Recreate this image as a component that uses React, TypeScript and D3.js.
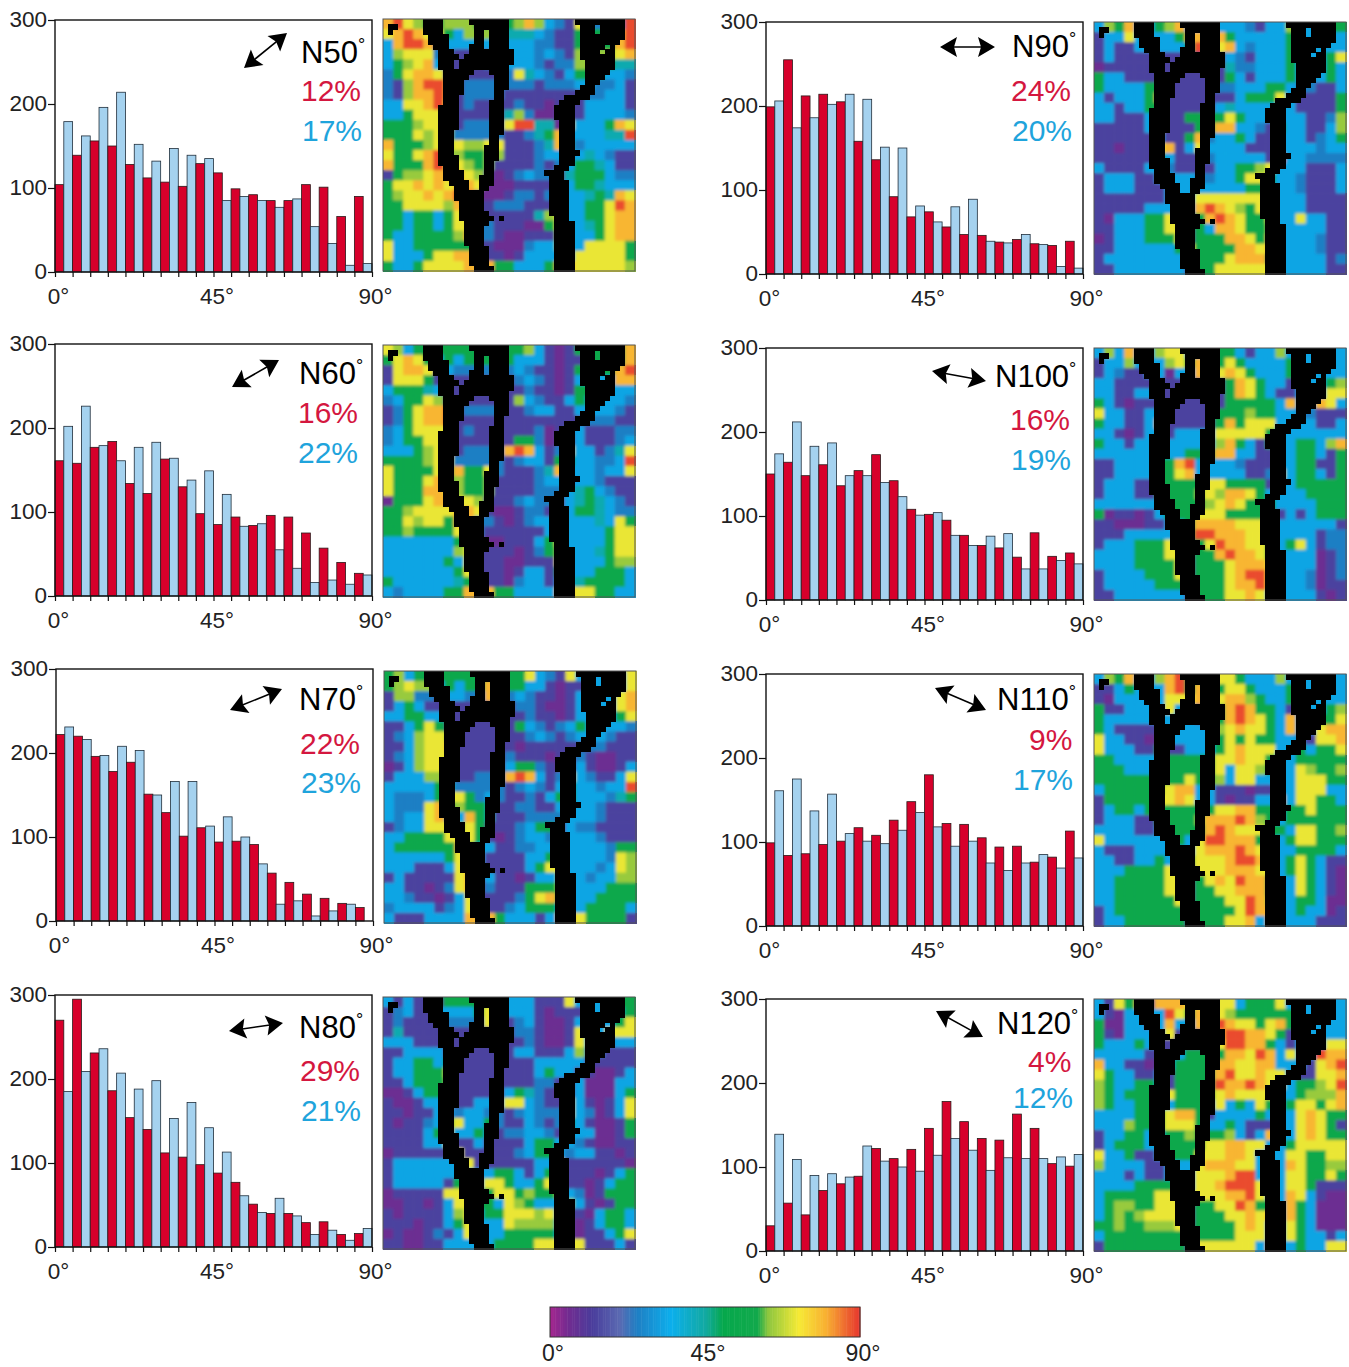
import React, { useEffect, useRef } from 'react';
import * as d3 from 'd3';

// counts per 5 degree bin
const n50Red = [104, 139, 156, 150, 128, 112, 107, 102, 129, 118, 99, 92, 85, 85, 104, 101, 66, 90];
const n50Blue = [179, 162, 196, 214, 152, 132, 147, 139, 135, 85, 90, 85, 77, 87, 54, 34, 8, 10];
const n60Red = [161, 158, 177, 184, 134, 122, 163, 130, 98, 85, 94, 84, 96, 94, 75, 57, 40, 27];
const n60Blue = [202, 226, 179, 161, 177, 183, 164, 138, 149, 121, 83, 86, 55, 33, 16, 19, 14, 25];
const n70Red = [222, 220, 196, 178, 189, 151, 129, 101, 111, 94, 95, 91, 57, 46, 32, 27, 21, 16];
const n70Blue = [231, 216, 197, 208, 203, 150, 166, 166, 113, 124, 100, 68, 20, 24, 6, 12, 20, 0];
const n80Red = [270, 295, 231, 186, 154, 140, 112, 107, 98, 88, 77, 51, 40, 40, 29, 30, 15, 16];
const n80Blue = [185, 209, 236, 207, 188, 198, 153, 172, 142, 113, 61, 41, 58, 37, 15, 20, 8, 22];
const n90Red = [199, 255, 212, 214, 205, 158, 136, 92, 68, 74, 56, 47, 46, 38, 41, 36, 34, 39];
const n90Blue = [206, 174, 186, 202, 214, 208, 151, 150, 81, 62, 80, 89, 39, 37, 47, 35, 9, 7];
const n100Red = [150, 164, 148, 161, 136, 154, 173, 142, 108, 102, 95, 77, 65, 62, 51, 80, 52, 56];
const n100Blue = [174, 212, 183, 187, 148, 148, 140, 123, 101, 104, 77, 65, 76, 79, 37, 37, 47, 43];
const n110Red = [99, 84, 86, 97, 101, 117, 108, 126, 148, 180, 122, 121, 105, 94, 95, 76, 82, 113];
const n110Blue = [161, 175, 137, 157, 110, 101, 98, 114, 135, 118, 95, 101, 75, 66, 75, 85, 69, 81];
const n120Red = [30, 57, 43, 72, 80, 89, 122, 110, 121, 146, 178, 154, 134, 132, 163, 146, 104, 101];
const n120Blue = [139, 109, 90, 92, 88, 125, 107, 100, 95, 114, 134, 120, 96, 111, 110, 110, 112, 115];

// map cells, one digit per cell, index into angleClasses
const angleClasses = [6, 13, 25, 33, 43, 52, 64, 71, 79, 88];

const n50Map = [
  '8976556665555686321722229', '7898775366664443211555589', '3899813333333332211555589', '3677722111113332321666678',
  '3567831111223332122666544', '2578871111112743213554332', '2168998122222221222332231', '2168898122221111111122331',
  '3377897121111211011133331', '3357776111114620011133332', '5556777122227994407333587', '5557676222221124583333449',
  '8555676766771112484233333', '7557896655661112332343211', '8555897765611112123554311', '1566788876101232214555322',
  '5778787887000111113554333', '5677878990001221283345487', '5577776881122211183355798', '5535535771111114673355788',
  '5535535772211100573345788', '5335555682210011163335788', '7335555551100023363377775', '7333577881110133333777775',
  '5335777788855333588777776',
];
const n60Map = [
  '7635555555555563101555558', '5787535355555333101155558', '1788713222222321101555589', '1777511111111232101333388',
  '3555431111111121101554333', '2355761111111632113543332', '1257889122221123311333321', '1257889111111111111122211',
  '2357777121111112012311122', '2355777111111552011311123', '3335677122228983127331247', '5555677222221233155332239',
  '7555575855721112483332337', '7555785655611112332332111', '7555887655611112223453211', '0555788776111232213454321',
  '5567777887100122113554322', '5576775882210123373334375', '5565555782111111383333577', '3333333572001113573333577',
  '3333333671111012563334577', '3333335371110011173333566', '3333333571110133153335553', '5333333457110233133455553',
  '3233335588855333388775533',
];
const n70Map = [
  '5635555555555573217333337', '5676635355855533101133337', '1662213322822321101333378', '1353111111111221001333378',
  '3355331111111121101333357', '1135751111111532123533332', '1236776111111123212333211', '1136778111111011111122111',
  '1236777111112111011210011', '0136775111113552101310013', '1333665112228983127321137', '3333354222221232135332339',
  '3222357752321121355333245', '3222785655411221133332111', '3233784385411122223332111', '1233777675111235513221111',
  '3355557775101233213332111', '3555555853311223373333255', '3333335783111133573333276', '3331113782111135773332376',
  '1311111781311013363323366', '3311012781211155563333555', '3321101371111257853335555', '2333312371112355533355553',
  '3111333388853331388755551',
];
const n80Map = [
  '3131115555553331117333355', '1231133335723331011133345', '1211112222721231001333357', '1411111111111221001733777',
  '3331111111111121001733233', '1133331111111331113622111', '1335535111111113333311111', '1335557111111113533110013',
  '1135556111111112211300033', '0013555111113542101300035', '1001336113337732117310137', '1101133233221232227320137',
  '1011235733521132125310015', '1111357335312233213330015', '1111337113111135533210011', '0111111711111235532331101',
  '1333333371111113371111110', '1333333333355313571110135', '1333331583775335751101355', '0111117771577565563201555',
  '0011013775537653336310155', '1011113673557776731103553', '1110113573337666631013553', '0100121371335555531011357',
  '1100113333355557777711131',
];
const n90Map = [
  '3658335683333332133633355', '1337333358838533333533333', '1311333335927832333533333', '1311111111111321333533357',
  '0111111111111422333533353', '5331111111111531333532353', '5333355111112233355322113', '3133358111111135557311115',
  '3313355111113433333311115', '3311138115555753333331126', '1111138111558833215331136', '1111113115823353113331235',
  '1101117813733331113333233', '1111115311123333319332222', '3111133211113355673331113', '1333113333223357753321113',
  '1333111333333335553321113', '1111111333777777783331111', '1111133353898765763331111', '1033355771589875573373311',
  '1133355771538875563333311', '0133355571555887583333211', '1133333357555588783333211', '1333333336555788853333312',
  '1133333331557777773333311',
];
const n100Map = [
  '3638336773335531336333333', '1336333675835753333533333', '1321133033827875333533333', '3311111111111587533133356',
  '3311331111111587531133377', '5310111111111555553833873', '7331133111115556553322111', '5331138111115857773333113',
  '3310133133337777753333333', '5331335333336853153355368', '3333335335558833113355315', '1133335589333321113355115',
  '1133335578333331127355315', '1333115555577555513355555', '1333115555676887533335555', '3333333555567875553333555',
  '5011013555777555551313555', '1100011335888877753333331', '1113333335998887753333122', '1333555751579887753573122',
  '3333555771558988753333012', '3333555571555788873333012', '1333355571555789973332012', '1333335557555788973332011',
  '1133333331555778733333101',
];
const n110Map = [
  '3658336895557753336333333', '1135333895835775333533333', '1033333777827886533533333', '5113333733115898553133356',
  '5333333333115898753833557', '5311111333336787753833788', '7331101333335757553321778', '7333115113335787773353557',
  '5533333555557787753355555', '5553335555557377653376556', '5555555557556377333377755', '3555556788331110113377733',
  '1555557787331011338377553', '1355355555557788553557555', '1333115555688898653555555', '3333113555589877755377556',
  '7333333353799888553577555', '3111333333788898733355553', '3311335335777899833575311', '3335555771777888773575310',
  '3355555771578798853375310', '3355555771557788853375310', '3355555571555779863355300', '1355555557555579883353301',
  '1335555551555778383333111',
];
const n120Map = [
  '3175818887777735557333333', '3103333975877655555533333', '5003313833879877578533333', '5103333711118998875133333',
  '5333531111117998853133377', '3333311135555887983733988', '8331101355558877883331789', '7533113155558977877311778',
  '6533553155559889877355679', '6535553755557877773356668', '6533553355537353753577578', '3333555788513333533378755',
  '3336555777533531113378751', '1335533556555631383378755', '1355533555577887733577777', '7335113555777887333775577',
  '6333311333788877323875566', '3331311333777899323775575', '3333555533778999733775111', '3555557767777889733873100',
  '3566557771557798553853000', '3565677771555778783853000', '5565566671555578733753000', '3555555551555577733753313',
  '1555555551777777383353377',
];

// black channels on the map, cell spans [from, to) for each of the 50 rows
const channelSpans = [
  [[8, 12], [17, 25], [38, 48]],
  [[1, 3], [8, 12], [18, 25], [39, 42], [43, 48]],
  [[1, 2], [8, 12], [18, 20], [21, 25], [39, 42], [43, 48]],
  [[9, 13], [18, 20], [21, 25], [39, 48]],
  [[9, 13], [18, 20], [21, 25], [39, 47]],
  [[10, 13], [17, 20], [21, 25], [39, 44], [45, 46]],
  [[11, 14], [17, 26], [39, 43], [44, 46]],
  [[11, 15], [16, 26], [39, 46]],
  [[11, 14], [15, 26], [40, 46]],
  [[11, 14], [15, 25], [40, 46]],
  [[12, 18], [21, 25], [40, 45]],
  [[12, 17], [22, 25], [40, 44]],
  [[12, 16], [22, 25], [40, 43]],
  [[12, 16], [22, 25], [39, 42]],
  [[12, 16], [22, 24], [38, 42]],
  [[12, 15], [22, 24], [36, 41]],
  [[12, 15], [21, 24], [35, 39]],
  [[11, 15], [21, 24], [34, 38]],
  [[11, 15], [21, 24], [34, 38]],
  [[11, 15], [21, 24], [34, 38]],
  [[11, 15], [21, 24], [35, 38]],
  [[11, 15], [21, 24], [35, 38]],
  [[11, 14], [21, 24], [35, 38]],
  [[11, 14], [21, 23], [35, 38]],
  [[11, 14], [21, 23], [35, 38]],
  [[11, 14], [20, 23], [35, 38]],
  [[11, 14], [20, 23], [35, 39]],
  [[11, 15], [20, 23], [35, 38]],
  [[11, 15], [20, 22], [35, 38]],
  [[12, 15], [20, 22], [34, 37]],
  [[12, 16], [20, 22], [32, 36]],
  [[12, 16], [19, 22], [33, 36]],
  [[13, 17], [19, 22], [33, 37]],
  [[14, 17], [19, 21], [33, 37]],
  [[14, 20], [33, 37]],
  [[14, 20], [33, 37]],
  [[15, 20], [33, 37]],
  [[15, 20], [33, 37]],
  [[15, 21], [33, 37]],
  [[15, 22], [23, 24], [34, 37]],
  [[16, 21], [34, 38]],
  [[16, 20], [34, 38]],
  [[16, 20], [34, 38]],
  [[16, 20], [34, 38]],
  [[16, 20], [34, 38]],
  [[17, 21], [34, 38]],
  [[17, 21], [34, 38]],
  [[17, 21], [34, 38]],
  [[17, 21], [34, 38]],
  [[18, 22], [34, 38]],
];

const colorStops = [0, 5, 12, 20, 25, 35, 45, 50, 60, 63, 72, 80, 90];
const colorValues = ['#a3268f', '#722c90', '#4a3d9c', '#5a6ab2', '#1f7fc4', '#0cafec', '#12a9a0', '#06a84c', '#12a94c', '#8cc63f', '#f6ea35', '#f8af32', '#e6322e'];

const yTicks = [0, 100, 200, 300];
const xLabels = [0, 45, 90];
const binCount = 18;

const panels = [
  { name: 'N50', red: n50Red, blue: n50Blue, map: n50Map, redPct: '12%', bluePct: '17%', x: 55, y: 20, mapY: 19, nx: 301, ny: 63, rx: 301, ry: 101, bx: 302, by: 141, arrow: [244, 68, 287, 33] },
  { name: 'N60', red: n60Red, blue: n60Blue, map: n60Map, redPct: '16%', bluePct: '22%', x: 55, y: 344, mapY: 345, nx: 299, ny: 384, rx: 298, ry: 423, bx: 298, by: 463, arrow: [232, 387, 279, 360] },
  { name: 'N70', red: n70Red, blue: n70Blue, map: n70Map, redPct: '22%', bluePct: '23%', x: 56, y: 669, mapY: 671, nx: 299, ny: 710, rx: 300, ry: 754, bx: 301, by: 793, arrow: [230, 710, 282, 689] },
  { name: 'N80', red: n80Red, blue: n80Blue, map: n80Map, redPct: '29%', bluePct: '21%', x: 55, y: 995, mapY: 997, nx: 299, ny: 1038, rx: 300, ry: 1081, bx: 301, by: 1121, arrow: [229, 1031, 283, 1023] },
  { name: 'N90', red: n90Red, blue: n90Blue, map: n90Map, redPct: '24%', bluePct: '20%', x: 766, y: 22, mapY: 22, nx: 1012, ny: 57, rx: 1011, ry: 101, bx: 1012, by: 141, arrow: [940, 47, 995, 47] },
  { name: 'N100', red: n100Red, blue: n100Blue, map: n100Map, redPct: '16%', bluePct: '19%', x: 766, y: 348, mapY: 348, nx: 995, ny: 387, rx: 1010, ry: 430, bx: 1011, by: 470, arrow: [932, 371, 986, 381] },
  { name: 'N110', red: n110Red, blue: n110Blue, map: n110Map, redPct: '9%', bluePct: '17%', x: 766, y: 674, mapY: 674, nx: 997, ny: 710, rx: 1029, ry: 750, bx: 1013, by: 790, arrow: [935, 688, 986, 710] },
  { name: 'N120', red: n120Red, blue: n120Blue, map: n120Map, redPct: '4%', bluePct: '12%', x: 766, y: 999, mapY: 999, nx: 997, ny: 1034, rx: 1028, ry: 1072, bx: 1013, by: 1108, arrow: [936, 1011, 983, 1037] },
];

const FONT = '"Liberation Sans", Arial, sans-serif';
const plotWidth = 317;
const plotHeight = 252;
const mapSize = 252;
const mapGap = 328;

const colorScale = d3.scaleLinear<string>().domain(colorStops).range(colorValues).clamp(true);

const Arrow = ({ coords }) => {
  const [x1, y1, x2, y2] = coords;
  const angle = (Math.atan2(y2 - y1, x2 - x1) * 180) / Math.PI;
  const len = Math.hypot(x2 - x1, y2 - y1);
  return (
    <g transform={`translate(${x1},${y1}) rotate(${angle})`}>
      <line x1={8} x2={len - 8} y1={0} y2={0} stroke="#000" strokeWidth={1.6} />
      <path d="M0,0L17,-10L14,0L17,10Z" fill="#000" />
      <path d={`M${len},0L${len - 17},-10L${len - 14},0L${len - 17},10Z`} fill="#000" />
    </g>
  );
};

const Histogram = ({ panel }) => {
  const yRef = useRef(null);
  const xRef = useRef(null);

  const bins = d3.scaleBand().domain(d3.range(binCount)).range([0, plotWidth]);
  const sides = d3.scaleBand().domain(['red', 'blue']).range([0, bins.bandwidth()]);
  const xScale = d3.scaleLinear().domain([0, 90]).range([0, plotWidth]);
  const yScale = d3.scaleLinear().domain([0, 300]).range([plotHeight, 0]);

  useEffect(() => {
    const yAxis = d3.axisLeft(yScale).tickValues(yTicks).tickSize(7).tickPadding(1);
    const xAxis = d3.axisBottom(xScale)
      .tickValues(d3.range(0, 91, 5))
      .tickSize(5)
      .tickPadding(11)
      .tickFormat((d) => (xLabels.includes(d) ? `${d}°` : ''));
    [d3.select(yRef.current).call(yAxis), d3.select(xRef.current).call(xAxis)].forEach((g) => {
      g.select('.domain').remove();
      g.selectAll('line').attr('stroke', '#111').attr('stroke-width', 1.2);
      g.selectAll('text').attr('font-family', FONT).attr('font-size', 22.5).attr('fill', '#222');
    });
    d3.select(yRef.current).selectAll('text').attr('transform', 'translate(0,-1)');
    d3.select(xRef.current).selectAll('text').attr('transform', 'translate(3,0)');
  }, []);

  return (
    <g transform={`translate(${panel.x},${panel.y})`}>
      {d3.range(binCount).map((i) => (
        <g key={i} transform={`translate(${bins(i)},0)`}>
          <rect
            x={sides('red')}
            y={yScale(panel.red[i])}
            width={sides.bandwidth()}
            height={plotHeight - yScale(panel.red[i])}
            fill="#d7002b"
            stroke="#2a1a1a"
            strokeWidth={0.8}
          />
          <rect
            x={sides('blue')}
            y={yScale(panel.blue[i])}
            width={sides.bandwidth()}
            height={plotHeight - yScale(panel.blue[i])}
            fill="#a5d2ef"
            stroke="#1f2d3a"
            strokeWidth={0.8}
          />
        </g>
      ))}
      <rect x={0} y={0} width={plotWidth} height={plotHeight} fill="none" stroke="#111" strokeWidth={1.4} />
      <g ref={yRef} />
      <g ref={xRef} transform={`translate(0,${plotHeight})`} />
    </g>
  );
};

const OrientationMap = ({ panel }) => {
  const coarse = d3.scaleBand().domain(d3.range(25)).range([0, mapSize]);
  const fine = d3.scaleBand().domain(d3.range(50)).range([0, mapSize]);
  const step = fine.step();
  const cells = panel.map.map((row, r) => row.split('').map((cell, c) => (
    <rect
      key={`${r}-${c}`}
      x={coarse(c)}
      y={coarse(r)}
      width={coarse.bandwidth() + 0.5}
      height={coarse.bandwidth() + 0.5}
      fill={colorScale(angleClasses[+cell])}
    />
  )));
  return (
    <g transform={`translate(${panel.x + mapGap},${panel.mapY})`}>
      <g shapeRendering="crispEdges">{cells}</g>
      {/* soften the coarse cells, the plain layer underneath keeps the edges solid */}
      <g filter="url(#mapSoften)" clipPath="url(#mapClip)">{cells}</g>
      <g shapeRendering="crispEdges">
        {channelSpans.map((spans, r) => spans.map(([from, to]) => (
          <rect key={`${r}-${from}`} x={step * from} y={fine(r)} width={step * (to - from)} height={step + 0.5} fill="#000" />
        )))}
      </g>
      <rect x={0} y={0} width={mapSize} height={mapSize} fill="none" stroke="#555" strokeWidth={1} />
    </g>
  );
};

const Labels = ({ panel }) => (
  <g fontFamily={FONT} fontSize={30}>
    <text x={panel.nx} y={panel.ny} fill="#000" fontSize={31}>
      {panel.name}
      <tspan fontSize={18} dy={-12}>°</tspan>
    </text>
    <text x={panel.rx} y={panel.ry} fill="#d4173f">{panel.redPct}</text>
    <text x={panel.bx} y={panel.by} fill="#1fa4dc">{panel.bluePct}</text>
  </g>
);

const ColorBar = () => {
  const barScale = d3.scaleLinear().domain([0, 90]).range([550, 860]);
  return (
    <g>
      {d3.range(0, 90, 0.5).map((d) => (
        <rect key={d} x={barScale(d)} y={1307} width={barScale(d + 0.5) - barScale(d) + 0.5} height={30} fill={colorScale(d)} />
      ))}
      <rect x={550} y={1307} width={310} height={30} fill="none" stroke="#333" strokeWidth={1} />
      {xLabels.map((d) => (
        <text key={d} x={barScale(d) + 3} y={1361} textAnchor="middle" fontFamily={FONT} fontSize={23} fill="#222">
          {`${d}°`}
        </text>
      ))}
    </g>
  );
};

export default function App() {
  return (
    <svg width={1349} height={1367} style={{ position: 'absolute', left: 0, top: 0, background: '#fff' }}>
      <defs>
        <filter id="mapSoften">
          <feGaussianBlur stdDeviation={1.8} />
        </filter>
        <clipPath id="mapClip">
          <rect x={0} y={0} width={mapSize} height={mapSize} />
        </clipPath>
      </defs>
      {panels.map((panel) => (
        <g key={panel.name}>
          <Histogram panel={panel} />
          <OrientationMap panel={panel} />
          <Arrow coords={panel.arrow} />
          <Labels panel={panel} />
        </g>
      ))}
      <ColorBar />
    </svg>
  );
}
